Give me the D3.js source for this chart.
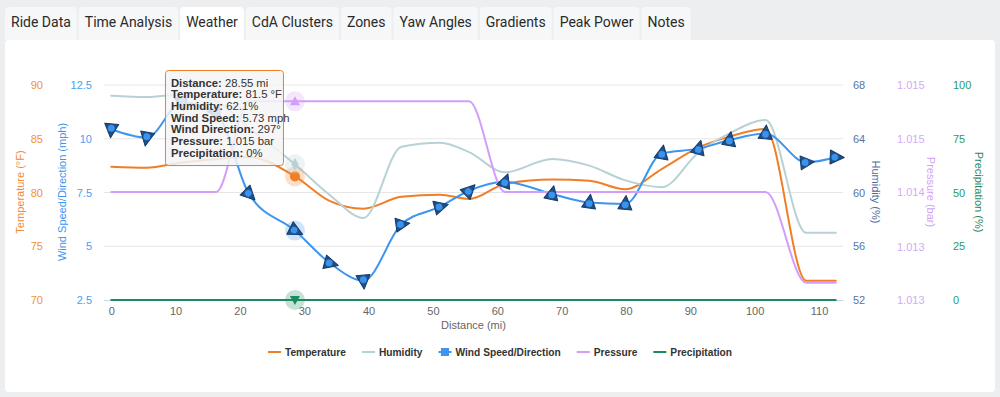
<!DOCTYPE html>
<html><head><meta charset="utf-8">
<script src="https://cdn.jsdelivr.net/npm/d3@7/dist/d3.min.js"></script>
<style>
html,body{margin:0;padding:0;background:#eceef0;overflow:hidden;}
svg{display:block;}
</style></head><body>
<svg id="c" width="1000" height="397"></svg>
<script>
// ---------- data ----------
const tabs = ["Ride Data","Time Analysis","Weather","CdA Clusters","Zones","Yaw Angles","Gradients","Peak Power","Notes"];
const activeTab = "Weather";

const distance    = [0, 5.5, 11.0, 16.3, 21.4, 28.55, 34.0, 39.2, 45.1, 51.1, 55.6, 61.2, 68.5, 74.3, 79.9, 85.6, 91.3, 96.1, 101.7, 108.0, 112.6];
const temperature = [82.4, 82.3, 82.8, 83.1, 83.3, 81.5, 79.2, 78.5, 79.6, 79.8, 79.4, 80.8, 81.2, 81.1, 80.3, 82.2, 84.2, 85.2, 85.9, 71.8, 71.8];
const humidity    = [67.2, 67.1, 67.3, 66.8, 64.8, 62.1, 59.8, 58.1, 63.4, 63.7, 63.0, 61.5, 62.5, 62.0, 60.9, 60.4, 63.0, 64.4, 65.4, 57.0, 57.0];
const windSpeed   = [10.44, 10.05, 11.7, 11.2, 7.43, 5.73, 4.21, 3.40, 6.02, 6.84, 7.58, 8.0, 7.43, 7.03, 6.97, 9.32, 9.54, 9.94, 10.25, 8.9, 9.14];
const windDir     = [5, 10, 350, 330, 315, 297, 285, 355, 262, 255, 225, 200, 192, 188, 185, 190, 195, 190, 185, 265, 272];
const pressure    = [1.014, 1.014, 1.014, 1.014, 1.015, 1.015, 1.015, 1.015, 1.015, 1.015, 1.015, 1.014, 1.014, 1.014, 1.014, 1.014, 1.014, 1.014, 1.014, 1.013, 1.013];
const precipitation = [0,0,0,0,0,0,0,0,0,0,0,0,0,0,0,0,0,0,0,0,0];

const hoverIndex = 5;

const distanceTicks = [0,10,20,30,40,50,60,70,80,90,100,110];
const tempTicks     = [70,75,80,85,90];
const windTicks     = [2.5,5,7.5,10,12.5];
const humidityTicks = [52,56,60,64,68];
const pressureTicks = [1.01281,1.0134,1.014,1.01459,1.01518];
const precipTicks   = [0,25,50,75,100];

const seriesNames = ["Temperature","Humidity","Wind Speed/Direction","Pressure","Precipitation"];

// ---------- styles ----------
const C = {
  temp:"#f07e26", hum:"#b8d1d5", wind:"#3d95f0", pres:"#d29ef7", prec:"#1b8a5f",
  tempLbl:"#f0913a", windLbl:"#4aa0f0", humLbl:"#5874a4", presLbl:"#d6a8f9", precLbl:"#279a6c"
};
const FONT = "'Liberation Sans', Arial, sans-serif";

const svg = d3.select("#c");

// ---------- tabs & panel ----------
svg.append("rect").attr("x",0).attr("y",0).attr("width",1000).attr("height",397).attr("fill","#eceef0");
svg.append("rect").attr("x",5).attr("y",40).attr("width",990).attr("height",352).attr("rx",4).attr("fill","#ffffff");

const tabG = svg.append("g");
let tx = 5;
tabs.forEach(t => {
  const g = tabG.append("g");
  const txt = g.append("text").text(t).attr("font-family","Roboto, sans-serif").attr("font-size",14)
    .attr("fill","#2a2a2a").attr("y",26.5);
  const w = txt.node().getComputedTextLength() + 12;
  const active = t === activeTab;
  g.insert("path","text")
    .attr("d",`M${tx},${active?42:40} L${tx},11 Q${tx},7 ${tx+4},7 L${tx+w-4},7 Q${tx+w},7 ${tx+w},11 L${tx+w},${active?42:40} Z`)
    .attr("fill", active ? "#ffffff" : "#f6f7f8");
  txt.attr("x", tx + 6);
  tx += w + 2;
});

// ---------- scales ----------
const L = 104, R = 843, T = 85, B = 300;
const x = d3.scaleLinear().domain([-1.13, 113.73]).range([L, R]);
const yT = d3.scaleLinear().domain([70, 90]).range([B, T]);
const yW = d3.scaleLinear().domain([2.5, 12.5]).range([B, T]);
const yH = d3.scaleLinear().domain([52, 68]).range([B, T]);
const yP = d3.scaleLinear().domain([1.01281, 1.01518]).range([B, T]);
const yR = d3.scaleLinear().domain([0, 100]).range([B, T]);

// grid
svg.append("g").selectAll("line").data(tempTicks.slice(1)).join("line")
  .attr("x1",L).attr("x2",R).attr("y1",d=>yT(d)).attr("y2",d=>yT(d))
  .attr("stroke","#e6e6e6").attr("stroke-width",1);

// axes
function styleAxis(g, color){
  g.select(".domain").remove();
  g.selectAll(".tick line").remove();
  g.selectAll("text").attr("font-family",FONT).attr("font-size",11).attr("fill",color);
}
svg.append("g").attr("transform",`translate(47,0)`)
  .call(d3.axisLeft(yT).tickValues(tempTicks).tickFormat(d3.format("d")).tickSize(0).tickPadding(4))
  .call(g=>styleAxis(g,C.tempLbl));
svg.append("g").attr("transform",`translate(96,0)`)
  .call(d3.axisLeft(yW).tickValues(windTicks).tickFormat(d=>String(d)).tickSize(0).tickPadding(4))
  .call(g=>styleAxis(g,C.windLbl));
svg.append("g").attr("transform",`translate(849,0)`)
  .call(d3.axisRight(yH).tickValues(humidityTicks).tickFormat(d3.format("d")).tickSize(0).tickPadding(4))
  .call(g=>styleAxis(g,C.humLbl));
svg.append("g").attr("transform",`translate(893,0)`)
  .call(d3.axisRight(yP).tickValues(pressureTicks).tickFormat(d3.format(".3f")).tickSize(0).tickPadding(4))
  .call(g=>styleAxis(g,C.presLbl));
svg.append("g").attr("transform",`translate(949,0)`)
  .call(d3.axisRight(yR).tickValues(precipTicks).tickFormat(d3.format("d")).tickSize(0).tickPadding(4))
  .call(g=>styleAxis(g,C.precLbl));

// x axis
svg.append("line").attr("x1",L).attr("x2",R).attr("y1",B+0.5).attr("y2",B+0.5).attr("stroke","#ccd6eb");
svg.append("g").attr("transform",`translate(0,${B})`)
  .call(d3.axisBottom(x).tickValues(distanceTicks).tickSize(0).tickPadding(7))
  .call(g=>styleAxis(g,"#666"));

// axis titles
function title(txt, xx, yy, rot, color){
  svg.append("text").text(txt).attr("transform",`translate(${xx},${yy}) rotate(${rot})`)
    .attr("text-anchor","middle").attr("dominant-baseline","central")
    .attr("font-family",FONT).attr("font-size",11).attr("fill",color);
}
title("Temperature (°F)", 20, 192, -90, "#ef8a3a");
title("Wind Speed/Direction (mph)", 62, 192, -90, "#3d95f0");
title("Humidity (%)", 876, 192, 90, "#4d6c9c");
title("Pressure (bar)", 931, 192, 90, "#d3a3f6");
title("Precipitation (%)", 979, 192, 90, "#1f8a5f");
svg.append("text").text("Distance (mi)").attr("x",(x(0)+x(112.6))/2).attr("y",329)
  .attr("text-anchor","middle").attr("font-family",FONT).attr("font-size",11).attr("fill","#666");

// ---------- lines ----------
const idx = d3.range(distance.length);
function drawLine(vals, ys, color, w){
  const line = d3.line().x(i=>x(distance[i])).y(i=>ys(vals[i])).curve(d3.curveMonotoneX);
  svg.append("path").attr("d", line(idx)).attr("fill","none").attr("stroke",color)
    .attr("stroke-width",w).attr("stroke-linejoin","round").attr("stroke-linecap","round");
}
drawLine(temperature, yT, C.temp, 2);
drawLine(humidity, yH, C.hum, 2);
drawLine(windSpeed, yW, C.wind, 2);
drawLine(pressure, yP, C.pres, 2);
drawLine(precipitation, yR, C.prec, 2);

// ---------- hover halos ----------
const hx = x(distance[hoverIndex]);
function halo(yy, color){
  svg.append("circle").attr("cx",hx).attr("cy",yy).attr("r",10).attr("fill",color).attr("opacity",0.25);
}
halo(yW(windSpeed[hoverIndex]), C.wind);

// ---------- wind markers ----------
const wm = svg.append("g").selectAll("g").data(idx).join("g")
  .attr("transform", i=>`translate(${x(distance[i])},${yW(windSpeed[i])}) rotate(${windDir[i]+180})`);
wm.append("path").attr("d","M0,-8.5 L7,5.5 L-7,5.5 Z").attr("fill","#1f4f86").attr("stroke","#163b66").attr("stroke-width",1).attr("stroke-linejoin","round");
wm.append("circle").attr("cx",0).attr("cy",1).attr("r",3.8).attr("fill","#3b93f0").attr("stroke","#1d4f8a").attr("stroke-width",0.8);

// other hover markers
halo(yT(temperature[hoverIndex]), C.temp);
svg.append("circle").attr("cx",hx).attr("cy",yT(temperature[hoverIndex])).attr("r",5).attr("fill",C.temp);
halo(yH(humidity[hoverIndex]), C.hum);
svg.append("path").attr("transform",`translate(${hx},${yH(humidity[hoverIndex])})`)
  .attr("d",d3.symbol(d3.symbolDiamond,45)()).attr("fill",C.hum);
halo(yP(pressure[hoverIndex]), C.pres);
svg.append("path").attr("transform",`translate(${hx},${yP(pressure[hoverIndex])})`)
  .attr("d","M0,-5 L5,4 L-5,4 Z").attr("fill",C.pres);
halo(yR(precipitation[hoverIndex]), C.prec);
svg.append("path").attr("transform",`translate(${hx},${yR(precipitation[hoverIndex])})`)
  .attr("d","M0,5 L5,-4 L-5,-4 Z").attr("fill",C.prec);

// ---------- legend ----------
const lg = svg.append("g");
const colors = [C.temp, C.hum, C.wind, C.pres, C.prec];
let lx = 0;
seriesNames.forEach((n,i)=>{
  const g = lg.append("g");
  g.append("line").attr("x1",0).attr("x2",13).attr("y1",0).attr("y2",0).attr("stroke",colors[i]).attr("stroke-width",2);
  if(i===2) g.append("rect").attr("x",2.5).attr("y",-4).attr("width",8).attr("height",8).attr("fill",colors[i]);
  const t = g.append("text").text(n).attr("x",17).attr("y",0).attr("dominant-baseline","central")
    .attr("font-family",FONT).attr("font-size",10.2).attr("font-weight","bold").attr("fill","#333");
  const w = 17 + t.node().getComputedTextLength();
  g.attr("transform",`translate(${lx},352)`);
  lx += w + 16;
});
const totalW = lx - 16;
lg.attr("transform",`translate(${500 - totalW/2},0)`);

// ---------- tooltip ----------
const tipX = hx - 130, tipY = 70;
const tip = svg.append("g").attr("transform",`translate(${tipX},${tipY})`);
tip.append("rect").attr("x",1).attr("y",1.5).attr("width",118).attr("height",95).attr("rx",3).attr("fill","rgba(0,0,0,0.06)");
tip.append("rect").attr("x",0.5).attr("y",0.5).attr("width",118).attr("height",95).attr("rx",3)
  .attr("fill","rgba(247,247,247,0.85)").attr("stroke",C.temp).attr("stroke-width",1);
const tipLines = [
  ["Distance:", `${distance[hoverIndex]} mi`],
  ["Temperature:", `${temperature[hoverIndex]} °F`],
  ["Humidity:", `${humidity[hoverIndex]}%`],
  ["Wind Speed:", `${windSpeed[hoverIndex]} mph`],
  ["Wind Direction:", `${windDir[hoverIndex]}°`],
  ["Pressure:", `${pressure[hoverIndex].toFixed(3)} bar`],
  ["Precipitation:", `${precipitation[hoverIndex]}%`]
];
tipLines.forEach((l,i)=>{
  const t = tip.append("text").attr("x",6).attr("y",16.5 + i*11.7)
    .attr("font-family",FONT).attr("font-size",11.3).attr("fill","#333");
  t.append("tspan").attr("font-weight","bold").text(l[0]);
  t.append("tspan").text(" " + l[1]);
});
</script>
</body></html>
